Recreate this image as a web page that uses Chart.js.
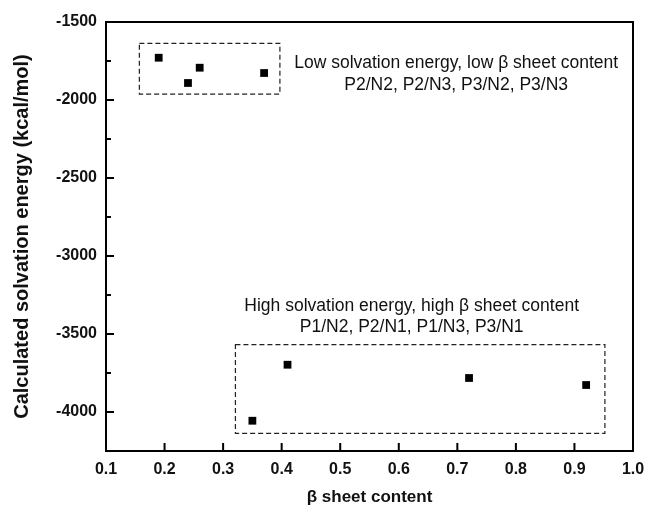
<!DOCTYPE html>
<html>
<head>
<meta charset="utf-8">
<script src="https://cdn.jsdelivr.net/npm/chart.js@4.4.1/dist/chart.umd.min.js"></script>
<style>
  html, body { margin: 0; padding: 0; background: #fff; }
  #wrap { width: 646px; height: 508px; }
</style>
</head>
<body>
<div id="wrap"><canvas id="chart" width="646" height="508"></canvas></div>
<script>
// beta sheet content vs calculated solvation energy
const lowBeta = [0.19, 0.24, 0.26, 0.37];
const lowEnergy = [-1729, -1891, -1793, -1827];
const highBeta = [0.35, 0.41, 0.72, 0.92];
const highEnergy = [-4056, -3697, -3782, -3827];

const xTicks = [0.1, 0.2, 0.3, 0.4, 0.5, 0.6, 0.7, 0.8, 0.9, 1.0];
const yTicks = [-4000, -3500, -3000, -2500, -2000, -1500];

// dashed group boxes and their labels (in data units)
const boxes = [
    { x0: 0.157, x1: 0.397, y0: -1637, y1: -1962 },
    { x0: 0.321, x1: 0.952, y0: -3568, y1: -4137 }
];
const notes = [
    { x: 0.698, y: -1795, text: 'Low solvation energy, low \u03b2 sheet content' },
    { x: 0.698, y: -1936, text: 'P2/N2, P2/N3, P3/N2, P3/N3' },
    { x: 0.622, y: -3351, text: 'High solvation energy, high \u03b2 sheet content' },
    { x: 0.622, y: -3487, text: 'P1/N2, P2/N1, P1/N3, P3/N1' }
];

const FONT = '"Liberation Sans", Arial, sans-serif';

const framePlugin = {
    id: 'frame',
    afterDatasetsDraw(chart) {
        const { ctx, chartArea: a, scales: { x, y } } = chart;
        ctx.save();
        // dashed boxes
        ctx.strokeStyle = '#222';
        ctx.lineWidth = 1.2;
        ctx.setLineDash([5, 3]);
        boxes.forEach(b => {
            const l = x.getPixelForValue(b.x0), r = x.getPixelForValue(b.x1);
            const t = y.getPixelForValue(b.y0), btm = y.getPixelForValue(b.y1);
            ctx.strokeRect(l, t, r - l, btm - t);
        });
        ctx.setLineDash([]);
        // notes
        ctx.fillStyle = '#111';
        ctx.font = '17.5px ' + FONT;
        ctx.textAlign = 'center';
        ctx.textBaseline = 'alphabetic';
        notes.forEach(n => {
            ctx.fillText(n.text, x.getPixelForValue(n.x), y.getPixelForValue(n.y));
        });
        // frame
        ctx.strokeStyle = '#000';
        ctx.lineWidth = 2;
        ctx.strokeRect(a.left, a.top, a.right - a.left, a.bottom - a.top);
        // inward ticks
        ctx.lineWidth = 2;
        ctx.beginPath();
        xTicks.forEach(v => {
            const px = x.getPixelForValue(v);
            ctx.moveTo(px, a.bottom);
            ctx.lineTo(px, a.bottom - 8);
        });
        for (let v = -4250; v <= -1500; v += 250) {
            const py = y.getPixelForValue(v);
            const len = (v % 500 === 0) ? 8 : 5;
            ctx.moveTo(a.left, py);
            ctx.lineTo(a.left + len, py);
        }
        ctx.stroke();
        ctx.restore();
    }
};

new Chart(document.getElementById('chart'), {
    type: 'scatter',
    data: {
        datasets: [
            {
                label: 'low',
                data: lowBeta.map((v, i) => ({ x: v, y: lowEnergy[i] })),
                backgroundColor: '#000',
                borderColor: '#000',
                pointStyle: 'rect',
                pointRadius: 5.5,
                borderWidth: 0
            },
            {
                label: 'high',
                data: highBeta.map((v, i) => ({ x: v, y: highEnergy[i] })),
                backgroundColor: '#000',
                borderColor: '#000',
                pointStyle: 'rect',
                pointRadius: 5.5,
                borderWidth: 0
            }
        ]
    },
    options: {
        responsive: false,
        animation: false,
        layout: { padding: { top: 22, right: 13, left: 0, bottom: 0 } },
        plugins: {
            legend: { display: false },
            tooltip: { enabled: false }
        },
        scales: {
            x: {
                type: 'linear',
                min: 0.1,
                max: 1.0,
                afterBuildTicks: s => { s.ticks = xTicks.map(v => ({ value: v })); },
                afterFit: s => { s.height = 57; s.paddingLeft = 0; s.paddingRight = 0; },
                grid: { display: false, drawTicks: false },
                border: { display: false },
                ticks: {
                    color: '#111',
                    padding: 9,
                    font: { family: FONT, size: 16, weight: 'bold' },
                    callback: v => v.toFixed(1)
                },
                title: {
                    display: true,
                    text: '\u03b2 sheet content',
                    color: '#111',
                    font: { family: FONT, size: 17, weight: 'bold' },
                    padding: { top: 6, bottom: 0 }
                }
            },
            y: {
                type: 'linear',
                min: -4250,
                max: -1500,
                afterBuildTicks: s => { s.ticks = yTicks.map(v => ({ value: v })); },
                afterFit: s => { s.width = 106; s.paddingTop = 0; s.paddingBottom = 0; },
                grid: { display: false, drawTicks: false },
                border: { display: false },
                ticks: {
                    color: '#111',
                    padding: 9,
                    font: { family: FONT, size: 16, weight: 'bold' },
                    callback: v => String(v)
                },
                title: {
                    display: true,
                    text: 'Calculated solvation energy (kcal/mol)',
                    color: '#111',
                    font: { family: FONT, size: 20, weight: 'bold' },
                    padding: { top: 10, bottom: 4 }
                }
            }
        }
    },
    plugins: [framePlugin]
});
</script>
</body>
</html>
